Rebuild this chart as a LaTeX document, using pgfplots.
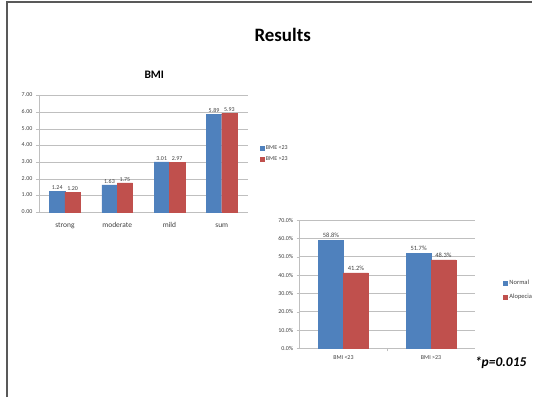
\documentclass[border=0pt]{standalone}
\usepackage{pgfplots}
\pgfplotsset{compat=1.18}
\usepackage{fontspec}
\setmainfont{Carlito}
\definecolor{barblue}{HTML}{4F81BD}
\definecolor{barred}{HTML}{C0504D}
\definecolor{gridgray}{HTML}{BFBFBF}
\definecolor{txtgray}{HTML}{404040}

\pgfplotsset{
  officebar/.style={
    scale only axis,
    ybar=0pt,
    axis x line*=bottom,
    axis y line*=left,
    axis line style={gridgray},
    ymajorgrids,
    grid style={gridgray, line width=0.5pt},
    major tick length=3pt,
    tick style={gridgray},
    xtick style={draw=none},
    tick align=outside,
    ticklabel style={text=txtgray},
    typeset ticklabels with strut,
    /pgf/number format/assume math mode=true,
    nodes near coords style={text=txtgray, inner sep=1.5pt},
    legend cell align=left,
    legend image code/.code={\fill[##1] (0pt,-2pt) rectangle (4pt,2pt);},
  }
}

\begin{document}
\begin{tikzpicture}[x=1pt,y=1pt]
  % canvas and slide frame
  \path (0pt,0pt) rectangle (534pt,399pt);
  \draw[gray!70!black, line width=1.2pt] (7pt,0pt) -- (7pt,397pt) -- (534pt,397pt);

  % slide title
  \node[font=\fontsize{19}{22}\selectfont\bfseries] at (284pt,364pt) {Results};

  % ---- BMI chart ----
  \node[font=\fontsize{11.5}{13}\selectfont\bfseries] at (155pt,324pt) {BMI};
  \begin{axis}[officebar,
    at={(39pt,186pt)}, anchor=south west,
    width=210pt, height=117pt,
    bar width=15.5pt,
    xmin=-0.5, xmax=3.5, ymin=0, ymax=7,
    ytick={0,1,...,7},
    yticklabel style={font=\fontsize{6}{7}\selectfont,
      /pgf/number format/.cd, fixed, fixed zerofill, precision=2},
    xtick={0,1,2,3},
    xticklabels={strong,moderate,mild,sum},
    xticklabel style={font=\fontsize{7.5}{8}\selectfont, yshift=-3pt},
    nodes near coords,
    nodes near coords style={font=\fontsize{6}{7}\selectfont,
      /pgf/number format/.cd, fixed, fixed zerofill, precision=2},
    legend style={at={(1.055,0.5)}, anchor=west, draw=none, fill=none,
      font=\fontsize{6}{7}\selectfont, text=txtgray,
      row sep=2pt, inner sep=0pt},
  ]
    \addplot[fill=barblue, draw=barblue] coordinates {(0,1.24) (1,1.63) (2,3.01) (3,5.89)};
    \addplot[fill=barred, draw=barred] coordinates {(0,1.20) (1,1.75) (2,2.97) (3,5.93)};
    \legend{BME <23, BME >23}
  \end{axis}

  % ---- Normal / Alopecia chart ----
  \begin{axis}[officebar,
    at={(301pt,49pt)}, anchor=south west,
    width=176pt, height=129pt,
    bar width=25pt,
    xmin=-0.5, xmax=1.5, ymin=0, ymax=70,
    ytick={0,10,...,70},
    yticklabel={\pgfmathprintnumber[fixed, fixed zerofill, precision=1]{\tick}\%},
    yticklabel style={font=\fontsize{6}{7}\selectfont},
    xtick={0,1},
    xticklabels={BMI <23, BMI >23},
    xticklabel style={font=\fontsize{6}{7}\selectfont},
    extra x ticks={0.5}, extra x tick labels={},
    extra x tick style={xtick style={draw=gridgray}, grid=none},
    nodes near coords={\pgfmathprintnumber[fixed, fixed zerofill, precision=1]{\pgfplotspointmeta}\%},
    nodes near coords style={font=\fontsize{6.5}{7}\selectfont, inner sep=2.5pt},
    legend style={at={(1.16,0.453)}, anchor=west, draw=none, fill=none,
      font=\fontsize{6.5}{7}\selectfont, text=txtgray,
      row sep=4pt, inner sep=0pt},
  ]
    \addplot[fill=barblue, draw=barblue] coordinates {(0,58.8) (1,51.7)};
    \addplot[fill=barred, draw=barred] coordinates {(0,41.2) (1,48.3)};
    \legend{Normal, Alopecia}
  \end{axis}

  % significance note
  \node[font=\fontsize{13.5}{15}\selectfont\bfseries\itshape] at (503pt,35pt) {*p=0.015};
\end{tikzpicture}
\end{document}
